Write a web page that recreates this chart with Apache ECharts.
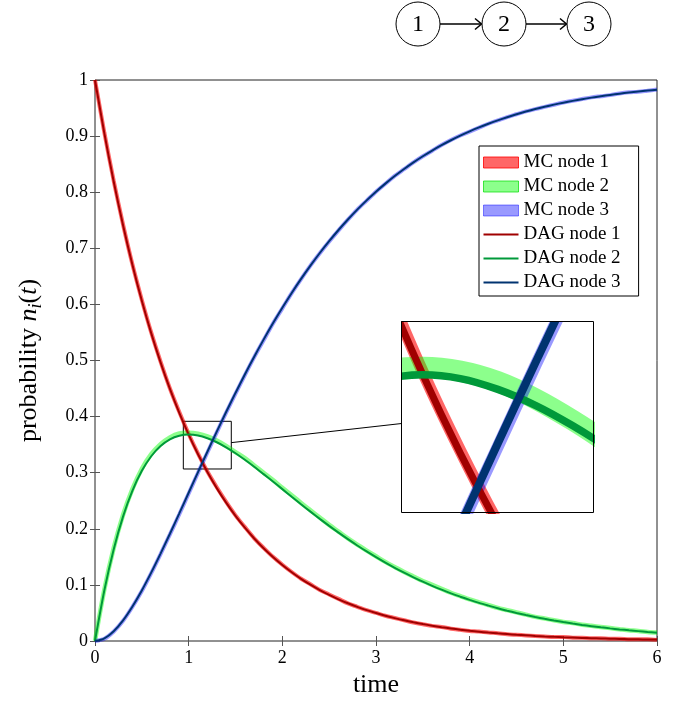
<!DOCTYPE html>
<html>
<head>
<meta charset="utf-8">
<script src="https://cdn.jsdelivr.net/npm/echarts@6/dist/echarts.min.js"></script>
<style>
    html, body {
        margin: 0;
        padding: 0;
        background: #fff;
    }
    #chart {
        position: absolute;
        left: 0;
        top: 0;
        width: 685px;
        height: 704px;
    }
    #inset {
        position: absolute;
        left: 401px;
        top: 321px;
        width: 194px;
        height: 193px;
        overflow: hidden;
    }
</style>
</head>
<body>
<div id="chart"></div>
<div id="inset"></div>
<script>
    // time samples (x values)
    const tValues = [
        0, 0.1, 0.2, 0.3, 0.4, 0.5, 0.6, 0.7, 0.8, 0.9,
        1, 1.1, 1.2, 1.3, 1.4, 1.5, 1.6, 1.7, 1.8, 1.9,
        2, 2.1, 2.2, 2.3, 2.4, 2.5, 2.6, 2.7, 2.8, 2.9,
        3, 3.1, 3.2, 3.3, 3.4, 3.5, 3.6, 3.7, 3.8, 3.9,
        4, 4.1, 4.2, 4.3, 4.4, 4.5, 4.6, 4.7, 4.8, 4.9,
        5, 5.1, 5.2, 5.3, 5.4, 5.5, 5.6, 5.7, 5.8, 5.9, 6
    ];

    // DAG curves
    const dagNode1 = [
        1.000, 0.9048, 0.8187, 0.7408, 0.6703, 0.6065, 0.5488, 0.4966, 0.4493, 0.4066,
        0.3679, 0.3329, 0.3012, 0.2725, 0.2466, 0.2231, 0.2019, 0.1827, 0.1653, 0.1496,
        0.1353, 0.1225, 0.1108, 0.1003, 0.0907, 0.0821, 0.0743, 0.0672, 0.0608, 0.0550,
        0.0498, 0.0450, 0.0408, 0.0369, 0.0334, 0.0302, 0.0273, 0.0247, 0.0224, 0.0202,
        0.0183, 0.0166, 0.0150, 0.0136, 0.0123, 0.0111, 0.0101, 0.0091, 0.0082, 0.0074,
        0.0067, 0.0061, 0.0055, 0.0050, 0.0045, 0.0041, 0.0037, 0.0033, 0.0030, 0.0027, 0.0025
    ];
    const dagNode2 = [
        0.000, 0.0905, 0.1637, 0.2222, 0.2681, 0.3033, 0.3293, 0.3476, 0.3595, 0.3659,
        0.3679, 0.3662, 0.3614, 0.3543, 0.3452, 0.3347, 0.3230, 0.3106, 0.2975, 0.2842,
        0.2707, 0.2572, 0.2438, 0.2306, 0.2177, 0.2052, 0.1931, 0.1815, 0.1703, 0.1596,
        0.1494, 0.1397, 0.1304, 0.1217, 0.1135, 0.1057, 0.0984, 0.0915, 0.0850, 0.0790,
        0.0733, 0.0679, 0.0630, 0.0583, 0.0540, 0.0500, 0.0462, 0.0427, 0.0395, 0.0365,
        0.0337, 0.0311, 0.0287, 0.0265, 0.0244, 0.0225, 0.0207, 0.0191, 0.0176, 0.0162, 0.0149
    ];
    const dagNode3 = [
        0.000, 0.0047, 0.0175, 0.0369, 0.0616, 0.0902, 0.1219, 0.1558, 0.1912, 0.2275,
        0.2642, 0.3010, 0.3374, 0.3732, 0.4082, 0.4422, 0.4751, 0.5068, 0.5372, 0.5663,
        0.5940, 0.6204, 0.6454, 0.6691, 0.6916, 0.7127, 0.7326, 0.7513, 0.7689, 0.7854,
        0.8009, 0.8153, 0.8288, 0.8414, 0.8532, 0.8641, 0.8743, 0.8838, 0.8926, 0.9008,
        0.9084, 0.9155, 0.9220, 0.9281, 0.9337, 0.9389, 0.9437, 0.9482, 0.9523, 0.9561,
        0.9596, 0.9628, 0.9658, 0.9686, 0.9711, 0.9734, 0.9756, 0.9776, 0.9794, 0.9811, 0.9826
    ];

    // Monte Carlo estimates (slightly noisy)
    const mcNode1 = [
        1.000, 0.906, 0.820, 0.742, 0.671, 0.608, 0.550, 0.498, 0.450, 0.408,
        0.369, 0.334, 0.302, 0.274, 0.248, 0.224, 0.203, 0.183, 0.166, 0.150,
        0.136, 0.123, 0.111, 0.101, 0.091, 0.083, 0.075, 0.067, 0.061, 0.055,
        0.050, 0.045, 0.041, 0.037, 0.033, 0.030, 0.027, 0.025, 0.022, 0.020,
        0.018, 0.017, 0.015, 0.014, 0.012, 0.011, 0.010, 0.009, 0.008, 0.007,
        0.007, 0.006, 0.006, 0.005, 0.005, 0.004, 0.004, 0.003, 0.003, 0.003, 0.002
    ];
    const mcNode2 = [
        0.000, 0.092, 0.166, 0.225, 0.271, 0.307, 0.333, 0.351, 0.363, 0.370,
        0.3712, 0.3695, 0.3648, 0.3572, 0.3476, 0.3368, 0.326, 0.313, 0.300, 0.287,
        0.273, 0.260, 0.246, 0.233, 0.220, 0.207, 0.195, 0.183, 0.172, 0.161,
        0.151, 0.141, 0.132, 0.123, 0.115, 0.107, 0.100, 0.093, 0.086, 0.080,
        0.074, 0.069, 0.064, 0.059, 0.055, 0.051, 0.047, 0.043, 0.040, 0.037,
        0.034, 0.032, 0.029, 0.027, 0.025, 0.023, 0.021, 0.019, 0.018, 0.016, 0.015
    ];
    const mcNode3 = [
        0.000, 0.004, 0.017, 0.036, 0.061, 0.089, 0.121, 0.155, 0.190, 0.226,
        0.263, 0.300, 0.336, 0.372, 0.407, 0.441, 0.474, 0.506, 0.536, 0.566,
        0.593, 0.620, 0.645, 0.669, 0.691, 0.712, 0.732, 0.751, 0.769, 0.785,
        0.801, 0.815, 0.829, 0.841, 0.853, 0.864, 0.874, 0.884, 0.893, 0.901,
        0.908, 0.915, 0.922, 0.928, 0.934, 0.939, 0.944, 0.948, 0.952, 0.956,
        0.960, 0.963, 0.966, 0.969, 0.971, 0.973, 0.976, 0.978, 0.979, 0.981, 0.983
    ];

    // zoomed window shown in the inset
    const zoomT = [0.943, 1.455];
    const zoomP = [0.3066, 0.3916];
    // where the connector line touches the box and the inset
    const connectorFrom = [1.455, 0.3536];
    const connectorTo = [0.943, 0.3462];

    const nodeLabels = ['1', '2', '3'];

    const FONT = 'Liberation Serif';
    const mcColors = ['rgba(255,0,0,0.6)', 'rgba(0,255,0,0.45)', 'rgba(0,0,255,0.4)'];
    const mcBorders = ['rgba(255,0,0,0.8)', 'rgba(0,220,0,0.7)', 'rgba(0,0,255,0.45)'];
    const dagColors = ['#a00000', '#00993a', '#003370'];

    function pairs(ys) {
        return tValues.map((t, i) => [t, ys[i]]);
    }

    const mcData = [mcNode1, mcNode2, mcNode3];
    const dagData = [dagNode1, dagNode2, dagNode3];

    function makeSeries(mcWidths, dagWidths, withBox) {
        let list = [];
        mcData.forEach((d, i) => {
            list.push({
                name: 'MC node ' + (i + 1),
                type: 'line',
                data: pairs(d),
                symbol: 'none',
                smooth: 0.3,
                lineStyle: {width: mcWidths[i], color: mcColors[i]},
                itemStyle: {color: mcColors[i]},
                z: 2
            });
        });
        dagData.forEach((d, i) => {
            let s = {
                name: 'DAG node ' + (i + 1),
                type: 'line',
                data: pairs(d),
                symbol: 'none',
                smooth: 0.3,
                lineStyle: {width: dagWidths[i], color: dagColors[i]},
                itemStyle: {color: dagColors[i]},
                z: 3
            };
            if (withBox && i === 2) {
                s.markArea = {
                    silent: true,
                    itemStyle: {color: 'rgba(0,0,0,0)', borderColor: '#000', borderWidth: 1},
                    label: {show: false},
                    data: [[{coord: [zoomT[0], zoomP[0]]}, {coord: [zoomT[1], zoomP[1]]}]]
                };
            }
            list.push(s);
        });
        return list;
    }

    // 1 -> 2 -> 3 diagram on top
    const nodeX = [418, 504, 589];
    const nodeY = 24;
    const nodeR = 22;
    let graphics = [];
    nodeX.forEach((x, i) => {
        graphics.push({
            type: 'circle', id: 'c' + i,
            shape: {cx: x, cy: nodeY, r: nodeR},
            style: {fill: '#fff', stroke: '#000', lineWidth: 1}
        });
        graphics.push({
            type: 'text', id: 't' + i,
            x: x, y: nodeY + 1,
            style: {text: nodeLabels[i], fontSize: 24, fontFamily: FONT, fill: '#000',
                align: 'center', verticalAlign: 'middle'}
        });
        if (i < nodeX.length - 1) {
            const x1 = x + nodeR, x2 = nodeX[i + 1] - nodeR;
            graphics.push({
                type: 'line', id: 'a' + i,
                shape: {x1: x1, y1: nodeY, x2: x2 - 1, y2: nodeY},
                style: {stroke: '#000', lineWidth: 1.5}
            });
            graphics.push({
                type: 'polyline', id: 'h' + i,
                shape: {points: [[x2 - 7, nodeY - 5.5], [x2 - 0.5, nodeY], [x2 - 7, nodeY + 5.5]]},
                style: {stroke: '#000', lineWidth: 1.5, fill: null}
            });
        }
    });

    const tickStyle = {show: true, inside: true, length: 5, lineStyle: {color: '#555'}};
    const labelStyle = {fontFamily: FONT, fontSize: 18, color: '#000'};
    const lineIcon = 'path://M0,0L35,0L35,2L0,2Z';

    let option = {
        animation: false,
        backgroundColor: '#fff',
        textStyle: {fontFamily: FONT},
        grid: {left: 95, top: 80, width: 562, height: 561, show: true,
            borderColor: '#222', borderWidth: 1},
        legend: {
            orient: 'vertical',
            left: 479, top: 146,
            padding: [7, 18, 4, 4],
            backgroundColor: '#fff',
            borderColor: '#000', borderWidth: 1,
            itemWidth: 35, itemHeight: 11, itemGap: 5,
            symbolKeepAspect: true,
            textStyle: {fontFamily: FONT, fontSize: 19, color: '#000', lineHeight: 18},
            data: [
                {name: 'MC node 1', icon: 'rect', itemStyle: {borderColor: mcBorders[0], borderWidth: 1}},
                {name: 'MC node 2', icon: 'rect', itemStyle: {borderColor: mcBorders[1], borderWidth: 1}},
                {name: 'MC node 3', icon: 'rect', itemStyle: {borderColor: mcBorders[2], borderWidth: 1}},
                {name: 'DAG node 1', icon: lineIcon},
                {name: 'DAG node 2', icon: lineIcon},
                {name: 'DAG node 3', icon: lineIcon}
            ],
            selectedMode: false
        },
        xAxis: [
            {
                type: 'value', min: 0, max: 6, interval: 1,
                name: 'time', nameLocation: 'middle', nameGap: 31,
                nameTextStyle: {fontFamily: FONT, fontSize: 26, color: '#000'},
                axisLine: {show: false},
                axisTick: tickStyle,
                axisLabel: Object.assign({margin: 8}, labelStyle),
                splitLine: {show: false}
            },
            {
                type: 'value', position: 'top', min: 0, max: 6, interval: 1,
                axisLine: {show: false}, axisTick: tickStyle,
                axisLabel: {show: false}, splitLine: {show: false}
            }
        ],
        yAxis: [
            {
                type: 'value', min: 0, max: 1, interval: 0.1,
                name: '{r|probability }{m|n}{s|i}{r|(}{m|t}{r|)}',
                nameLocation: 'middle', nameGap: 50, nameRotate: 90,
                nameTextStyle: {
                    fontFamily: FONT, fontSize: 26, color: '#000',
                    rich: {
                        r: {fontFamily: FONT, fontSize: 26, color: '#000', padding: [0, 0, 3, 0], verticalAlign: 'bottom'},
                        m: {fontFamily: FONT, fontSize: 26, color: '#000', fontStyle: 'italic', padding: [0, 0, 3, 0], verticalAlign: 'bottom'},
                        s: {fontFamily: FONT, fontSize: 18, color: '#000', fontStyle: 'italic', verticalAlign: 'bottom'}
                    }
                },
                axisLine: {show: false},
                axisTick: tickStyle,
                axisLabel: Object.assign({margin: 7}, labelStyle),
                splitLine: {show: false}
            },
            {
                type: 'value', position: 'right', min: 0, max: 1, interval: 0.1,
                axisLine: {show: false}, axisTick: tickStyle,
                axisLabel: {show: false}, splitLine: {show: false}
            }
        ],
        graphic: graphics,
        series: makeSeries([4, 4.5, 4], [2, 2, 2], true)
    };

    let myChart = echarts.init(document.getElementById('chart'));
    myChart.setOption(option);

    // inset: the zoom window magnified, in its own canvas so the thick lines are cut at its edge
    let insetOption = {
        animation: false,
        backgroundColor: '#fff',
        grid: {left: 0.5, top: 0.5, width: 192, height: 191, show: false},
        xAxis: {type: 'value', min: zoomT[0], max: zoomT[1], show: false},
        yAxis: {type: 'value', min: zoomP[0], max: zoomP[1], show: false},
        graphic: [{
            type: 'rect', z: 100,
            shape: {x: 0.5, y: 0.5, width: 192, height: 191},
            style: {fill: null, stroke: '#000', lineWidth: 1}
        }],
        series: makeSeries([12, 21, 12], [7, 7.5, 8], false)
    };
    let insetDiv = document.getElementById('inset');
    let insetChart = echarts.init(insetDiv);
    insetChart.setOption(insetOption);

    // connector between the zoom box and the inset
    const p1 = myChart.convertToPixel({gridIndex: 0}, connectorFrom);
    const q = insetChart.convertToPixel({gridIndex: 0}, connectorTo);
    const p2 = [q[0] + insetDiv.offsetLeft, q[1] + insetDiv.offsetTop];
    myChart.setOption({
        graphic: [{
            type: 'line', id: 'connector', z: 10,
            shape: {x1: p1[0], y1: p1[1], x2: p2[0], y2: p2[1]},
            style: {stroke: '#000', lineWidth: 1}
        }]
    });
</script>
</body>
</html>
